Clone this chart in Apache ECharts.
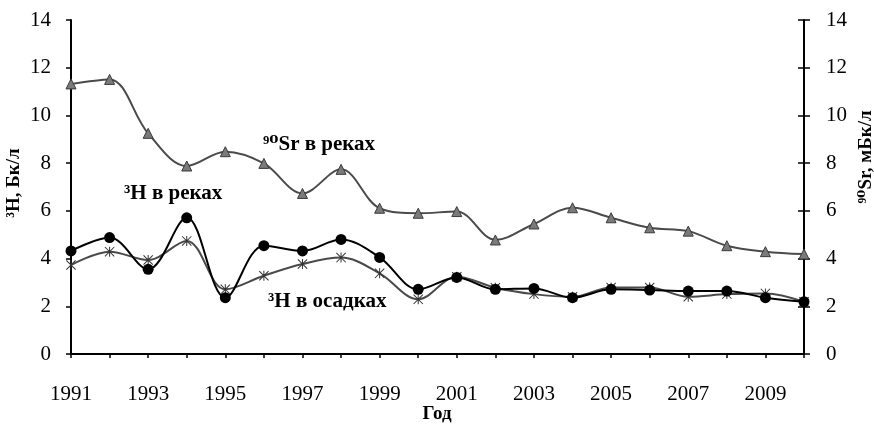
<!DOCTYPE html>
<html>
<head>
<meta charset="utf-8">
<script src="https://cdn.jsdelivr.net/npm/echarts@6/dist/echarts.min.js"></script>
<style>
  html, body { margin: 0; padding: 0; background: #fff; }
  #chart { width: 874px; height: 425px; }
</style>
</head>
<body>
<div id="chart"></div>
<script>
const years = ['1991', '1992', '1993', '1994', '1995', '1996', '1997', '1998', '1999', '2000',
  '2001', '2002', '2003', '2004', '2005', '2006', '2007', '2008', '2009', '2010'];
const srRivers = [11.32, 11.51, 9.25, 7.88, 8.48, 7.99, 6.73, 7.74, 6.11, 5.9,
  5.97, 4.78, 5.45, 6.13, 5.71, 5.29, 5.15, 4.54, 4.29, 4.19];
const hRivers = [4.32, 4.88, 3.55, 5.71, 2.36, 4.54, 4.32, 4.8, 4.05, 2.71,
  3.21, 2.71, 2.75, 2.36, 2.71, 2.68, 2.64, 2.64, 2.36, 2.19];
const hPrecip = [3.73, 4.29, 3.94, 4.74, 2.71, 3.28, 3.77, 4.04, 3.38, 2.29,
  3.24, 2.78, 2.51, 2.4, 2.79, 2.79, 2.4, 2.51, 2.54, 2.19];

const serif = '"Liberation Serif", "DejaVu Serif", serif';
const asterisk = 'path://M9 0L11 0L11 20L9 20Z M0 1.4L1.4 0L20 18.6L18.6 20Z M18.6 0L20 1.4L1.4 20L0 18.6Z';

const chart = echarts.init(document.getElementById('chart'));

const labelStyle = { fontFamily: serif, fontSize: 21, color: '#000' };
const axisLine = { show: true, lineStyle: { color: '#000', width: 2 } };
const tickStyle = { color: '#000', width: 1.5 };

chart.setOption({
  animation: false,
  grid: { left: 71, right: 70, top: 20, bottom: 71, outerBoundsMode: 'none', containLabel: false },
  xAxis: {
    type: 'category',
    data: years,
    boundaryGap: false,
    axisLine: axisLine,
    axisTick: { show: true, interval: 0, length: 4, lineStyle: tickStyle },
    axisLabel: { interval: 1, margin: 30, ...labelStyle },
    splitLine: { show: false }
  },
  yAxis: [
    {
      type: 'value', min: 0, max: 14, interval: 2, position: 'left',
      axisLine: axisLine,
      axisTick: { show: true, length: 5, lineStyle: tickStyle },
      axisLabel: { margin: 20, ...labelStyle },
      splitLine: { show: false }
    },
    {
      type: 'value', min: 0, max: 14, interval: 2, position: 'right',
      axisLine: axisLine,
      axisTick: { show: true, length: 6, lineStyle: tickStyle },
      axisLabel: { margin: 22, ...labelStyle },
      splitLine: { show: false }
    },
    {
      // inner half of the right axis ticks
      type: 'value', min: 0, max: 14, interval: 2, position: 'right',
      axisLine: { show: false },
      axisTick: { show: true, inside: true, length: 6, lineStyle: tickStyle },
      axisLabel: { show: false },
      splitLine: { show: false }
    }
  ],
  series: [
    {
      name: '⁹⁰Sr в реках',
      type: 'line',
      yAxisIndex: 1,
      data: srRivers,
      smooth: 0.35,
      symbol: 'triangle',
      symbolSize: 10,
      lineStyle: { color: '#4a4a4a', width: 2 },
      itemStyle: { color: '#7a7a7a', borderColor: '#3a3a3a', borderWidth: 1 }
    },
    {
      name: '³H в осадках',
      type: 'line',
      data: hPrecip,
      smooth: 0.35,
      symbol: asterisk,
      symbolSize: 10,
      lineStyle: { color: '#4a4a4a', width: 2 },
      itemStyle: { color: '#333' }
    },
    {
      name: '³H в реках',
      type: 'line',
      data: hRivers,
      smooth: 0.35,
      symbol: 'circle',
      symbolSize: 11,
      lineStyle: { color: '#000', width: 2 },
      itemStyle: { color: '#000' }
    }
  ],
  graphic: [
    { type: 'text', left: 263, top: 134, style: { text: '⁹⁰Sr в реках', font: 'bold 21px ' + serif, fill: '#000' } },
    { type: 'text', left: 124, top: 183, style: { text: '³H в реках', font: 'bold 21px ' + serif, fill: '#000' } },
    { type: 'text', left: 268, top: 291, style: { text: '³H в осадках', font: 'bold 21px ' + serif, fill: '#000' } },
    { type: 'text', x: 14, y: 183, rotation: Math.PI / 2,
      style: { text: '³H, Бк/л', font: 'bold 19px ' + serif, fill: '#000', align: 'center', verticalAlign: 'middle' } },
    { type: 'text', x: 866, y: 157, rotation: Math.PI / 2,
      style: { text: '⁹⁰Sr, мБк/л', font: 'bold 19px ' + serif, fill: '#000', align: 'center', verticalAlign: 'middle' } },
    { type: 'text', x: 437, y: 414,
      style: { text: 'Год', font: 'bold 19px ' + serif, fill: '#000', align: 'center', verticalAlign: 'middle' } }
  ]
});
</script>
</body>
</html>
